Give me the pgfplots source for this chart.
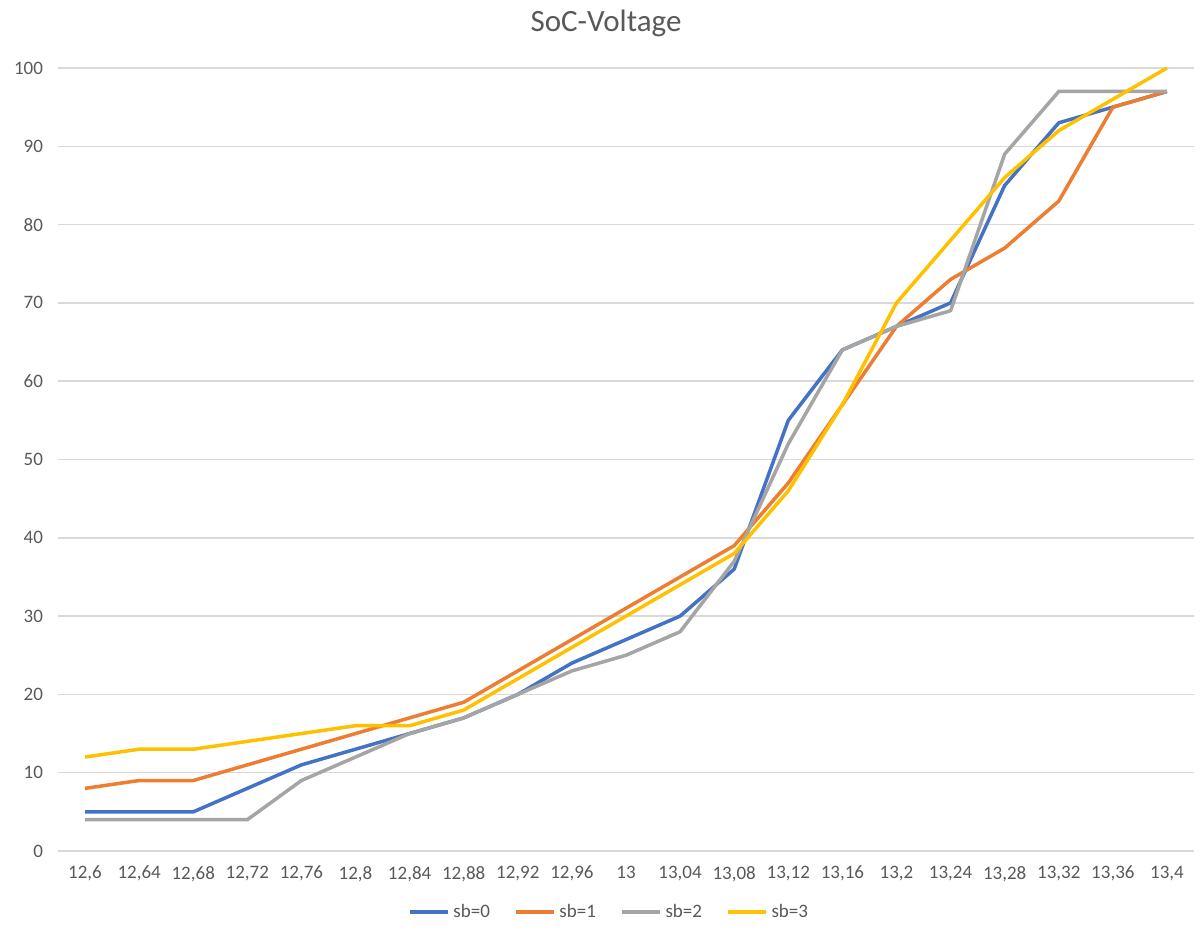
\documentclass[border=0pt]{standalone}
\usepackage{fontspec}
\setmainfont{Carlito}
\usepackage{pgfplots}
\pgfplotsset{compat=1.18}
\definecolor{xblue}{HTML}{4472C4}
\definecolor{xorange}{HTML}{ED7D31}
\definecolor{xgray}{HTML}{A5A5A5}
\definecolor{xyellow}{HTML}{FFC000}
\definecolor{txt}{HTML}{595959}
\definecolor{gridc}{HTML}{D9D9D9}
\begin{document}
\begin{tikzpicture}
\begin{axis}[
    scale only axis,
    width=568pt, height=391.5pt,
    xmin=-0.5, xmax=20.5,
    ymin=0, ymax=100,
    xtick={0,1,...,20},
    xticklabels={{12,6},{12,64},{12,68},{12,72},{12,76},{12,8},{12,84},{12,88},{12,92},{12,96},{13},{13,04},{13,08},{13,12},{13,16},{13,2},{13,24},{13,28},{13,32},{13,36},{13,4}},
    ytick={0,10,...,100},
    ymajorgrids=true,
    grid style={gridc, line width=0.75pt},
    axis line style={draw=none},
    major tick length=0pt,
    tick label style={font=\fontsize{9.5}{11}\selectfont, text=txt},
    /pgf/number format/assume math mode=true,
    yticklabel style={xshift=-4pt},
    xticklabel style={yshift=-4pt},
    legend columns=4,
    legend style={at={(rel axis cs:0.5,0)}, anchor=center, yshift=-30.5pt, xshift=-8pt,
        draw=none, font=\fontsize{9.5}{11}\selectfont, text=txt,
        /tikz/every even column/.append style={column sep=10pt}},
    legend image code/.code={\draw[#1] (0pt,0pt) -- (19pt,0pt);},
    every axis plot/.append style={line width=1.75pt, line join=round},
]
\addplot[xblue] coordinates {
(0,5)(1,5)(2,5)(3,8)(4,11)(5,13)(6,15)(7,17)(8,20)(9,24)(10,27)(11,30)(12,36)(13,55)(14,64)(15,67)(16,70)(17,85)(18,93)(19,95)(20,97)};
\addlegendentry{sb=0}
\addplot[xorange] coordinates {
(0,8)(1,9)(2,9)(3,11)(4,13)(5,15)(6,17)(7,19)(8,23)(9,27)(10,31)(11,35)(12,39)(13,47)(14,57)(15,67)(16,73)(17,77)(18,83)(19,95)(20,97)};
\addlegendentry{sb=1}
\addplot[xgray] coordinates {
(0,4)(1,4)(2,4)(3,4)(4,9)(5,12)(6,15)(7,17)(8,20)(9,23)(10,25)(11,28)(12,37)(13,52)(14,64)(15,67)(16,69)(17,89)(18,97)(19,97)(20,97)};
\addlegendentry{sb=2}
\addplot[xyellow] coordinates {
(0,12)(1,13)(2,13)(3,14)(4,15)(5,16)(6,16)(7,18)(8,22)(9,26)(10,30)(11,34)(12,38)(13,46)(14,57)(15,70)(16,78)(17,86)(18,92)(19,96)(20,100)};
\addlegendentry{sb=3}
\end{axis}
\node[font=\fontsize{15.5}{18}\selectfont, text=txt] at (274pt,414pt) {SoC-Voltage};
\path[use as bounding box] (-29pt,-40pt) rectangle (572.5pt,425.5pt);
\end{tikzpicture}
\end{document}
